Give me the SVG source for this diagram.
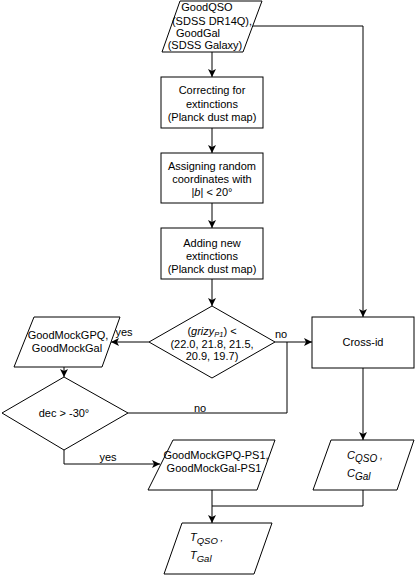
<svg xmlns="http://www.w3.org/2000/svg" width="415" height="578" viewBox="0 0 415 578">
<style>
.s{fill:#fff;stroke:#000;stroke-width:1}
.c{fill:none;stroke:#000;stroke-width:1}
text{font-family:"Liberation Sans",Arial,sans-serif;font-size:11px;fill:#000}
.m{text-anchor:middle}
.i{font-style:italic}
</style>
<defs>
<marker id="ah" viewBox="0 0 8 8" refX="8" refY="4" markerWidth="8" markerHeight="8" markerUnits="userSpaceOnUse" orient="auto">
<path d="M0,0 L8,4 L0,8 L2,4 z" fill="#000"/>
</marker>
</defs>
<rect width="415" height="578" fill="#fff"/>
<g id="connectors">
<path class="c" d="M212,52 L212,77" marker-end="url(#ah)"/>
<path class="c" d="M212,128 L212,153" marker-end="url(#ah)"/>
<path class="c" d="M212,203 L212,228" marker-end="url(#ah)"/>
<path class="c" d="M212,279 L212,306" marker-end="url(#ah)"/>
<path class="c" d="M253,26 L363,26 L363,317" marker-end="url(#ah)"/>
<path class="c" d="M149,342 L111,342" marker-end="url(#ah)"/>
<path class="c" d="M275,342 L312,342" marker-end="url(#ah)"/>
<path class="c" d="M64,367 L64,377" marker-end="url(#ah)"/>
<path class="c" d="M128,413 L287,413 L287,342"/>
<path class="c" d="M64,450 L64,464 L160,464" marker-end="url(#ah)"/>
<path class="c" d="M363,368 L363,440" marker-end="url(#ah)"/>
<path class="c" d="M212,490 L212,523" marker-end="url(#ah)"/>
<path class="c" d="M363,490 L363,506 L212,506"/>
<text x="124" y="336" class="m">yes</text>
<text x="281" y="338" class="m">no</text>
<text x="200" y="412" class="m">no</text>
<text x="108" y="461" class="m">yes</text>
</g>
<g id="input">
<polygon class="s" points="180,1 262,1 243,52 162,52"/>
<text x="207" y="10.5" class="m">GoodQSO</text>
<text x="212" y="24.5" class="m">(SDSS DR14Q),</text>
<text x="198" y="36.5" class="m">GoodGal</text>
<text x="205" y="48.5" class="m">(SDSS Galaxy)</text>
</g>
<g id="correct">
<rect class="s" x="161" y="77" width="102" height="51"/>
<text x="212" y="94" class="m">Correcting for</text>
<text x="212" y="107.5" class="m">extinctions</text>
<text x="212" y="121" class="m">(Planck dust map)</text>
</g>
<g id="assign">
<rect class="s" x="161" y="153" width="102" height="50"/>
<text x="212" y="170" class="m">Assigning random</text>
<text x="212" y="183" class="m">coordinates with</text>
<text x="212" y="196" class="m">|<tspan class="i">b</tspan>| &lt; 20°</text>
</g>
<g id="adding">
<rect class="s" x="161" y="228" width="102" height="51"/>
<text x="212" y="247" class="m">Adding new</text>
<text x="212" y="260" class="m">extinctions</text>
<text x="212" y="272.5" class="m">(Planck dust map)</text>
</g>
<g id="mag-cut">
<polygon class="s" points="212,306 275,342 212,378 149,342"/>
<text x="212" y="334.5" class="m">(<tspan class="i">grizy</tspan><tspan class="i" font-size="7.5" dy="2">P1</tspan><tspan dy="-2">) &lt;</tspan></text>
<text x="212" y="348" class="m">(22.0, 21.8, 21.5,</text>
<text x="212" y="359.5" class="m">20.9, 19.7)</text>
</g>
<g id="mock">
<polygon class="s" points="34,317 120,317 102,367 14,367"/>
<text x="68" y="339" class="m">GoodMockGPQ,</text>
<text x="67" y="352" class="m">GoodMockGal</text>
</g>
<g id="dec">
<polygon class="s" points="64,377 128,413 64,450 2,413"/>
<text x="64" y="417" class="m">dec &gt; -30°</text>
</g>
<g id="crossid">
<rect class="s" x="312" y="317" width="102" height="51"/>
<text x="363" y="346" class="m">Cross-id</text>
</g>
<g id="ps1">
<polygon class="s" points="173,440 275,440 257,490 148,490"/>
<text x="216" y="459" class="m">GoodMockGPQ-PS1,</text>
<text x="214" y="472" class="m">GoodMockGal-PS1</text>
</g>
<g id="cat-c">
<polygon class="s" points="331,440 414,440 397,490 313,490"/>
<text x="347" y="459" font-size="13" class="i">C<tspan font-size="10" dy="3">QSO</tspan><tspan dy="-3" font-size="10"> ,</tspan></text>
<text x="347" y="477" font-size="13" class="i">C<tspan font-size="10" dy="3">Gal</tspan></text>
</g>
<g id="cat-t">
<polygon class="s" points="182,523 272,523 254,574 164,574"/>
<text x="190" y="541" font-size="12" class="i">T<tspan font-size="9.5" dy="3">QSO</tspan><tspan dy="-3" font-size="9.5"> ,</tspan></text>
<text x="190" y="559" font-size="12" class="i">T<tspan font-size="9.5" dy="3">Gal</tspan></text>
</g>
</svg>
